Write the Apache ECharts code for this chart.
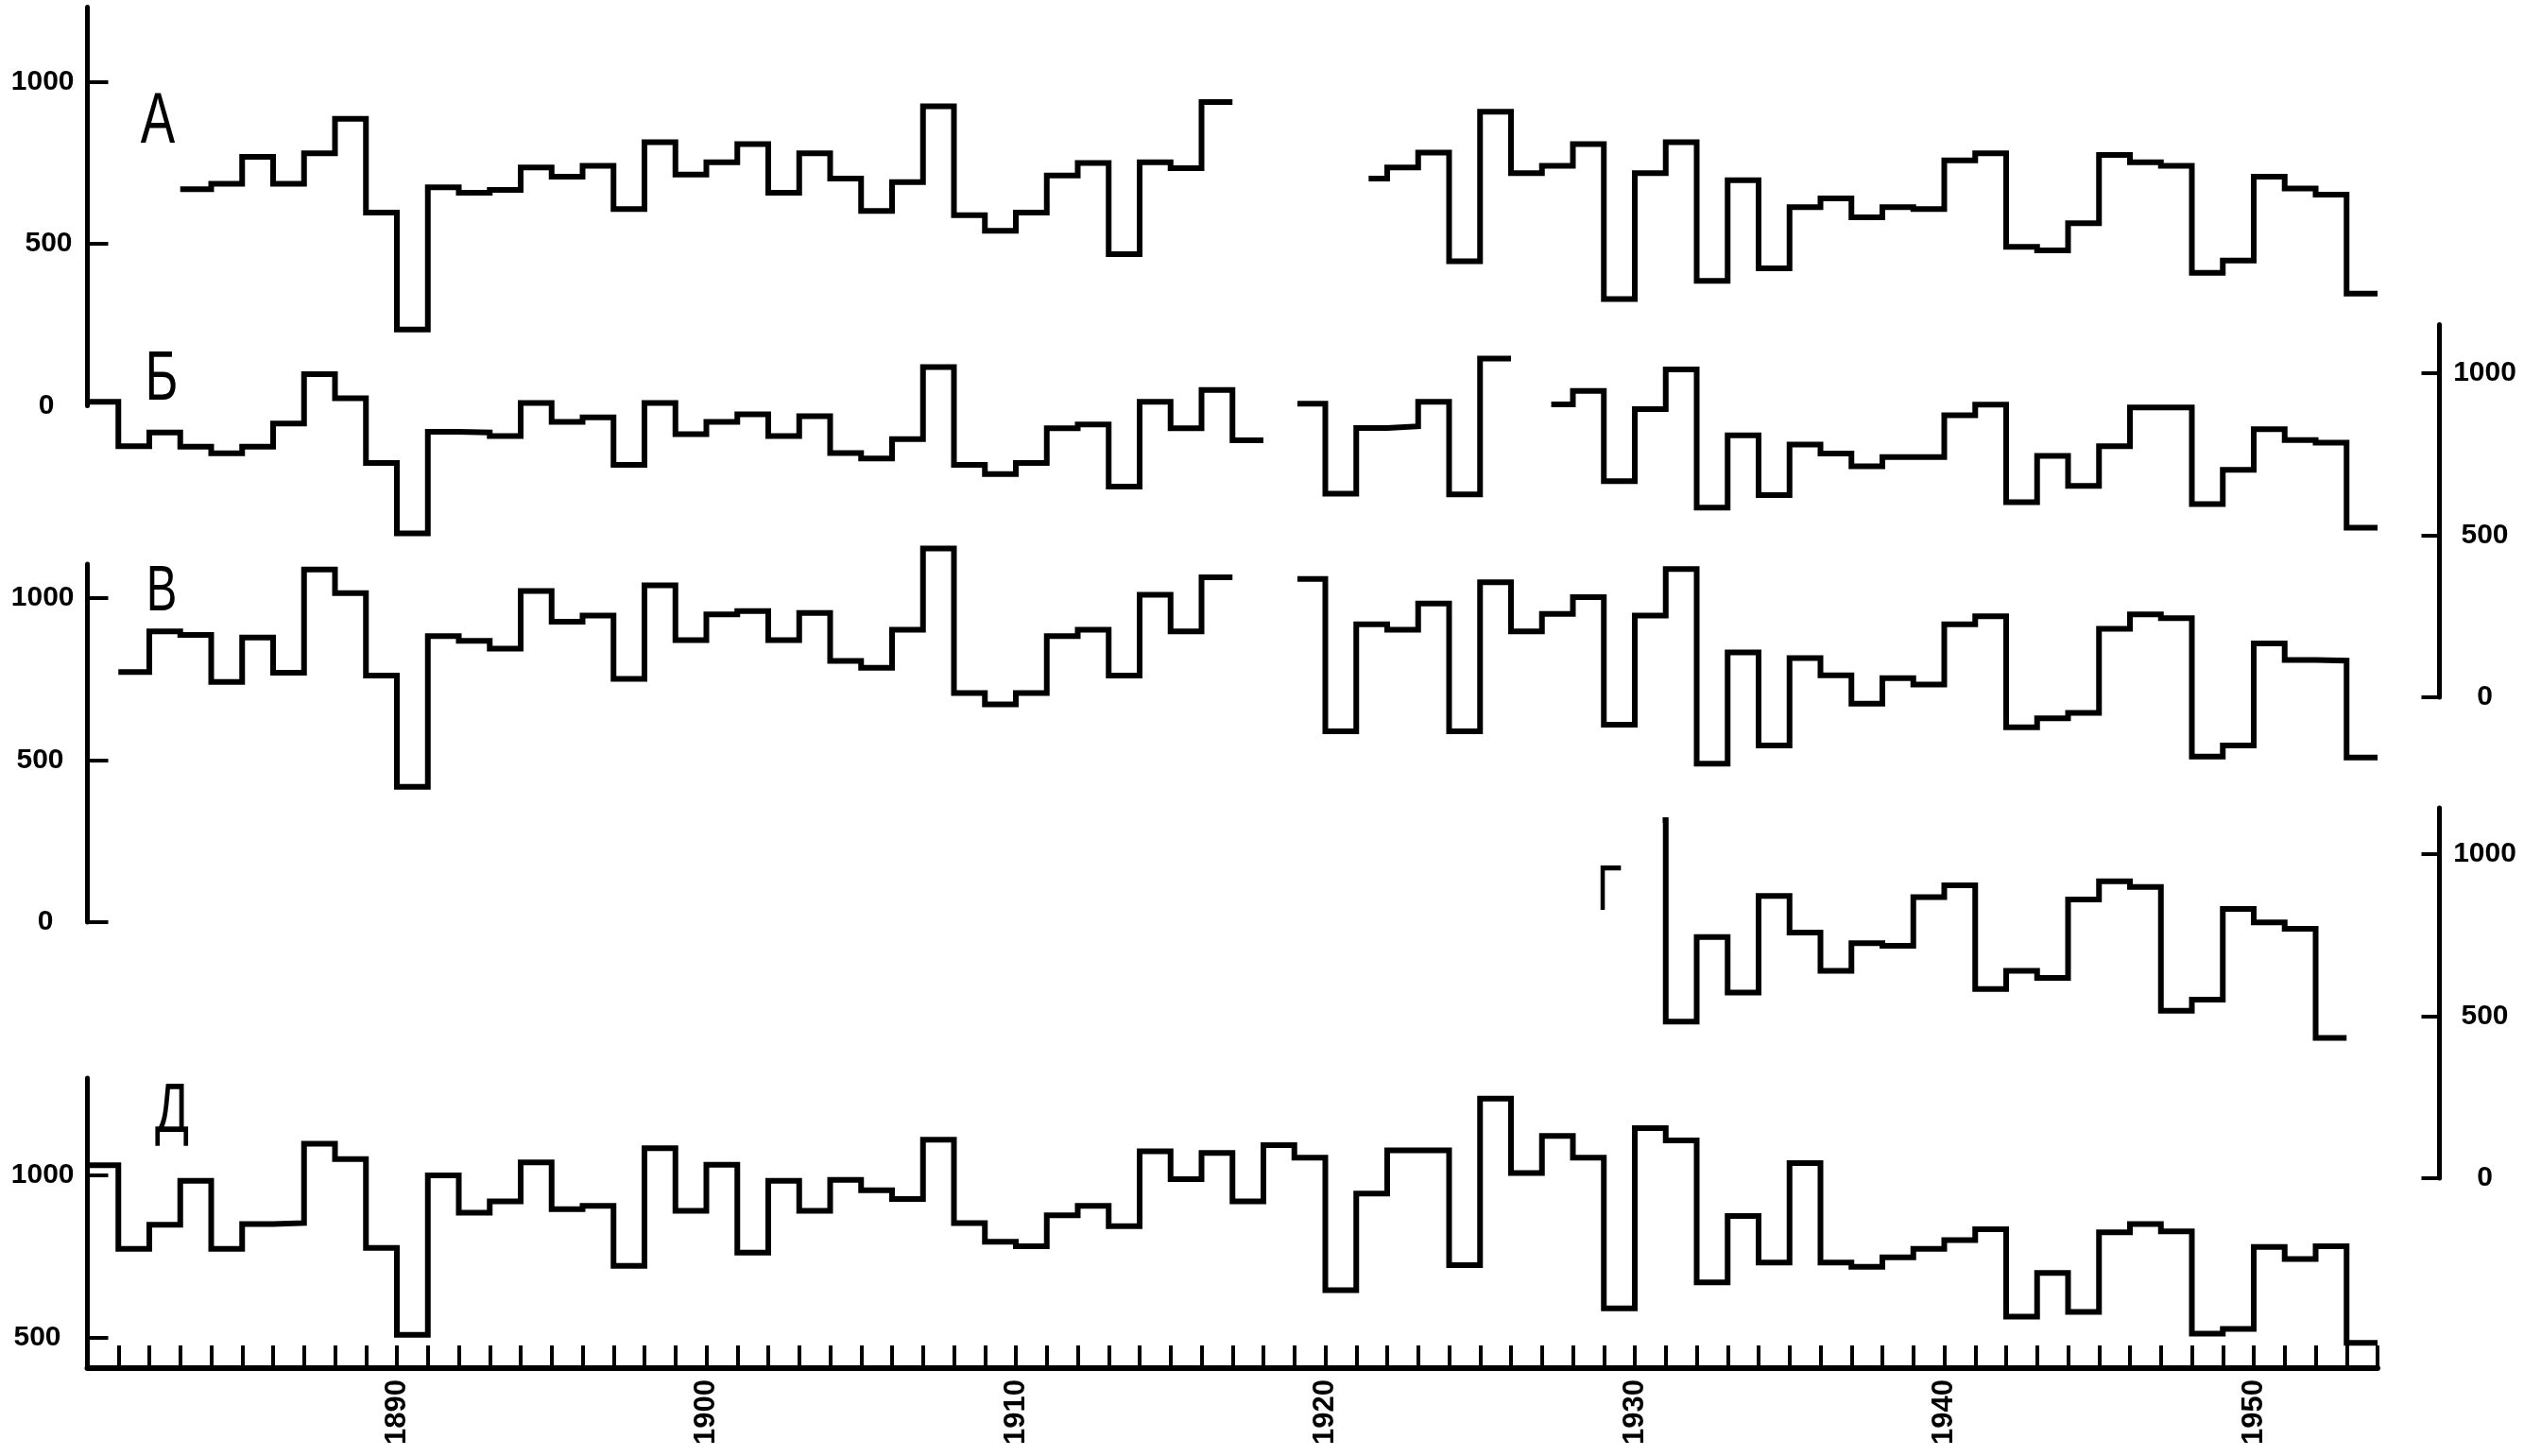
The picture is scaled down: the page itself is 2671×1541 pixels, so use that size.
<!DOCTYPE html>
<html><head><meta charset="utf-8">
<script src="https://cdn.jsdelivr.net/npm/echarts@6/dist/echarts.min.js"></script>
<style>html,body{margin:0;padding:0;background:#fff}#c{width:2671px;height:1541px}</style>
</head><body><div id="c"></div><script>
// ---- data (annual values, one value per year, piece start year given) ----
const A1_START = 1883;
const A1 = [668,685,768,685,779,885,596,235,674,657,666,735,707,740,607,813,713,751,807,657,779,701,601,690,924,588,540,596,710,749,468,751,733,937];
const A2_START = 1921.4;
const A2 = [701,735,781,446,907,718,740,807,329,718,813,385,696,424,613,640,581,613,607,757,779,490,479,563,774,751,740,410,448,707,670,651,346];

const B1_START = 1880;
const B1 = [912,775,817,773,753,773,845,997,923,723,506,819,817,806,908,850,864,717,908,812,850,873,806,867,754,737,797,1019,717,689,723,830,842,650,912,830,948,793];
const B2_START = 1919.1;
const B2 = [906,628,831,836,912,626,1045];
const B3_START = 1927.3;
const B3 = [904,945,667,889,1012,585,808,624,780,752,713,741,741,870,903,602,745,652,775,894,894,596,702,827,794,786,523];

const V1_START = 1881;
const V1 = [772,897,886,741,878,770,1088,1015,761,418,883,868,844,1022,927,946,751,1039,870,950,960,870,954,806,785,902,1153,707,672,707,883,902,761,1010,897,1064];
const V2_START = 1919.1;
const V2 = [1059,589,919,902,983,589,1049,897,951,1003,609,946,1090,489,832,545,815,762,674,753,733,919,944,601,629,646,905,950,938,511,545,860,809,807,508];

const G1_START = 1930.9;
const G1 = [1105,483,744,573,871,758,640,725,717,867,904,584,640,618,860,916,899,517,551,831,789,770,433];

const D1_START = 1880;
const D1 = [1031,773,848,983,773,850,853,1098,1050,776,508,1000,885,920,1040,896,906,721,1084,891,1033,762,983,891,986,954,927,1110,853,795,781,877,906,843,1074,988,1069,920,1093,1055,646,944,1077,1077,723,1237,1007,1122,1055,590,1146,1108,670,875,731,1038,731,718,747,773,800,834,564,699,579,824,850,827,512,526,779,742,781,483];

const YEAR_LABELS = [1890,1900,1910,1920,1930,1940,1950];
const Y_LABELS = [0,500,1000];
const PANEL_NAMES = ['А','Б','В','Г','Д'];

// ---- layout / style ----
const K = 0.343;          // px per mm
const PX_YEAR = 32.75;    // px per year
const LEFT = 92.5;
const NUM_FONT = "'Liberation Sans Narrow','Liberation Sans',Arial,sans-serif";

function mkGrid(zero, ymin, ymax, xmax) {
  return {left: LEFT, width: (xmax - 1880) * PX_YEAR, top: zero - ymax * K,
          height: (ymax - ymin) * K, containLabel: false, outerBoundsMode: 'none'};
}
const grids = [
  mkGrid(429.4, 0, 1230, 1956),
  mkGrid(738, 0, 1150, 1956),
  mkGrid(976, 0, 1105, 1956),
  mkGrid(1247, 0, 1143, 1956),
  mkGrid(1587, 405, 1300, 1954)
];
const yRanges = [[0,1230],[0,1150],[0,1105],[0,1143],[405,1300]];

function yAxis(i, pos, ticks, labels, pads) {
  const base = {fontFamily: NUM_FONT, fontSize: pos === 'left' ? 30 : 30, fontWeight: 'bold', color: '#000'};
  const rich = {};
  Object.keys(pads).forEach(k => { rich['p' + k] = Object.assign({}, base, {padding: [0, pads[k], 0, 0]}); });
  return {
    type: 'value', gridIndex: i, position: pos, min: yRanges[i][0], max: yRanges[i][1],
    splitLine: {show: false},
    axisLine: {show: true, onZero: false, lineStyle: {color: '#000', width: 5}},
    axisTick: {show: true, inside: true, length: pos === 'left' ? 22 : 19, customValues: ticks,
               lineStyle: {color: '#000', width: 4}},
    axisLabel: Object.assign({}, base, {
      customValues: labels, margin: pos === 'left' ? 14 : 48,
      align: pos === 'left' ? 'right' : 'center',
      formatter: v => (pads[v] !== undefined ? '{p' + v + '|' + v + '}' : String(v)),
      rich: rich
    })
  };
}

const yAxes = [
  yAxis(0, 'left', [500, 1000], Y_LABELS, {0: 21, 500: 2}),
  yAxis(1, 'right', Y_LABELS, Y_LABELS, {}),
  yAxis(2, 'left', [0, 500, 1000], Y_LABELS, {0: 22, 500: 11}),
  yAxis(3, 'right', Y_LABELS, Y_LABELS, {}),
  yAxis(4, 'left', [500, 1000], [500, 1000], {500: 14})
];

const xAxes = [0,1,2,3].map(i => ({type: 'value', gridIndex: i, min: 1880, max: 1956, show: false, splitLine: {show: false}}));
xAxes.push({
  type: 'value', gridIndex: 4, min: 1880, max: 1954, interval: 1, position: 'bottom',
  splitLine: {show: false},
  axisLine: {show: true, onZero: false, lineStyle: {color: '#000', width: 6}},
  axisTick: {show: true, inside: true, length: 24, interval: 0, lineStyle: {color: '#000', width: 4}},
  axisLabel: {interval: 0, rotate: 90, margin: 12, hideOverlap: false, showMinLabel: false,
    fontFamily: NUM_FONT, fontWeight: 'bold', fontSize: 31, color: '#000',
    formatter: v => (YEAR_LABELS.indexOf(v) >= 0 ? String(v) : '')}
});

function piece(start, values, gi) {
  const y0 = Math.floor(start);
  const pts = values.map((v, i) => [i === 0 ? start : y0 + i, v]);
  pts.push([y0 + values.length, values[values.length - 1]]);
  return {
    type: 'line', step: 'end', xAxisIndex: gi, yAxisIndex: gi, data: pts,
    showSymbol: false, symbol: 'none', clip: false, silent: true,
    lineStyle: {color: '#000', width: 6, join: 'miter', cap: 'butt'}
  };
}
const series = [
  piece(A1_START, A1, 0), piece(A2_START, A2, 0),
  piece(B1_START, B1, 1), piece(B2_START, B2, 1), piece(B3_START, B3, 1),
  piece(V1_START, V1, 2), piece(V2_START, V2, 2),
  piece(G1_START, G1, 3),
  piece(D1_START, D1, 4)
];

const LETTER_FONT = "'Liberation Sans Narrow','Liberation Sans',Arial,sans-serif";
const letterPos = [[167,130,76],[171,403,74],[171,627,68],[1703,944,68],[182,1178,74]];
const graphic = PANEL_NAMES.map((t, i) => ({
  type: 'text', x: letterPos[i][0], y: letterPos[i][1], scaleX: 0.72, silent: true,
  style: {text: t, fill: '#000', font: letterPos[i][2] + 'px ' + LETTER_FONT,
          textAlign: 'center', textVerticalAlign: 'middle'}
}));

const chart = echarts.init(document.getElementById('c'), null, {renderer: 'canvas'});
chart.setOption({
  animation: false, backgroundColor: '#fff',
  grid: grids, xAxis: xAxes, yAxis: yAxes, series: series, graphic: graphic
});
</script></body></html>
